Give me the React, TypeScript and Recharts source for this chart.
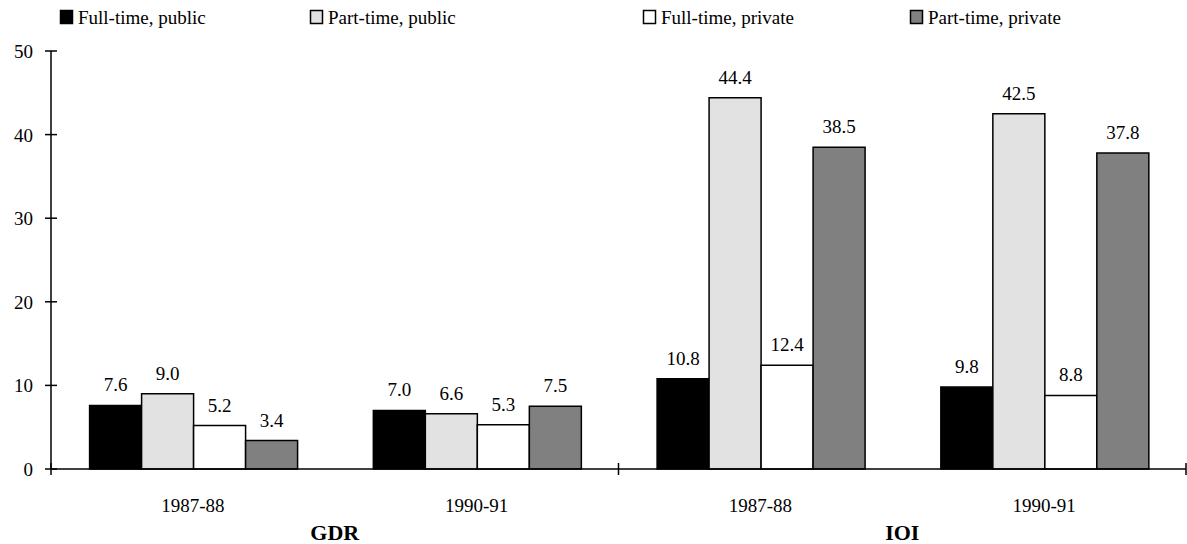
import { BarChart, Bar, XAxis, YAxis, LabelList } from "recharts";

const periods = ["1987-88", "1990-91", "1987-88", "1990-91"];
const regions = ["GDR", "GDR", "IOI", "IOI"];
const fullTimePublic = [7.6, 7.0, 10.8, 9.8];
const partTimePublic = [9.0, 6.6, 44.4, 42.5];
const fullTimePrivate = [5.2, 5.3, 12.4, 8.8];
const partTimePrivate = [3.4, 7.5, 38.5, 37.8];
const yTicks = [0, 10, 20, 30, 40, 50];

const SERIES = [
    { key: "ftPub", name: "Full-time, public", fill: "#000000", values: fullTimePublic },
    { key: "ptPub", name: "Part-time, public", fill: "#e2e2e2", values: partTimePublic },
    { key: "ftPriv", name: "Full-time, private", fill: "#ffffff", values: fullTimePrivate },
    { key: "ptPriv", name: "Part-time, private", fill: "#808080", values: partTimePrivate },
];

const FONT = '"Liberation Serif", "Times New Roman", serif';
const W = 1187;
const H = 544;
const MARGIN = { top: 51, right: 1, left: 0, bottom: 0 };
const Y_WIDTH = 51;
const BAND = (W - Y_WIDTH - MARGIN.right) / periods.length;
const LEGEND_X = [60, 310, 643, 910];

const data = periods.map((p, i) => {
    const row: any = { label: p, region: regions[i] };
    SERIES.forEach((s) => {
        row[s.key] = s.values[i];
    });
    return row;
});

const YTick = ({ x, y, payload }: any) => (
    <g>
        <line x1={x - 6} x2={x + 6} y1={y} y2={y} stroke="#000" strokeWidth={1.5} />
        <text x={x - 18} y={y + 7} textAnchor="end" fontSize={19} fontFamily={FONT} fill="#000">
            {payload.value}
        </text>
    </g>
);

const XTick = ({ x, y, payload, index }: any) => {
    const half = BAND / 2;
    return (
        <g>
            <text x={x} y={y + 43} textAnchor="middle" fontSize={19} fontFamily={FONT} fill="#000">
                {payload.value}
            </text>
            {index % 2 === 0 && (
                <>
                    <line x1={x - half} x2={x - half} y1={y - 6} y2={y + 6} stroke="#000" strokeWidth={1.5} />
                    <text
                        x={x + half}
                        y={y + 71}
                        textAnchor="middle"
                        fontSize={22}
                        fontWeight="bold"
                        fontFamily={FONT}
                        fill="#000"
                    >
                        {regions[index]}
                    </text>
                </>
            )}
            {index === periods.length - 1 && (
                <line x1={x + half} x2={x + half} y1={y - 6} y2={y + 6} stroke="#000" strokeWidth={1.5} />
            )}
        </g>
    );
};

function ChartLegend() {
    return (
        <svg width={W} height={32} style={{ position: "absolute", left: 0, top: 0 }}>
            {SERIES.map((s, i) => (
                <g key={s.key}>
                    <rect x={LEGEND_X[i] + 0.5} y={10.5} width={12} height={13} fill={s.fill} stroke="#000" strokeWidth={1.5} />
                    <text x={LEGEND_X[i] + 18} y={24} fontSize={19} fontFamily={FONT} fill="#000">
                        {s.name}
                    </text>
                </g>
            ))}
        </svg>
    );
}

export default function App() {
    return (
        <div style={{ position: "absolute", left: 0, top: 0, width: W, height: H, background: "#fff" }}>
            <BarChart
                width={W}
                height={H}
                data={data}
                margin={MARGIN}
                barCategoryGap="13.6%"
                barGap={0}
            >
                <XAxis
                    dataKey="label"
                    height={75}
                    interval={0}
                    tickSize={0}
                    tickMargin={0}
                    tickLine={false}
                    axisLine={{ stroke: "#000", strokeWidth: 1.5 }}
                    tick={<XTick />}
                />
                <YAxis
                    width={Y_WIDTH}
                    domain={[0, 50]}
                    ticks={yTicks}
                    interval={0}
                    tickSize={0}
                    tickMargin={0}
                    tickLine={false}
                    axisLine={{ stroke: "#000", strokeWidth: 1.5 }}
                    tick={<YTick />}
                />
                {SERIES.map((s) => (
                    <Bar
                        key={s.key}
                        dataKey={s.key}
                        name={s.name}
                        fill={s.fill}
                        stroke="#000"
                        strokeWidth={1.5}
                        isAnimationActive={false}
                    >
                        <LabelList
                            dataKey={s.key}
                            position="top"
                            offset={14}
                            fontSize={19}
                            fontFamily={FONT}
                            fill="#000"
                            formatter={(v: any) => Number(v).toFixed(1)}
                        />
                    </Bar>
                ))}
            </BarChart>
            <ChartLegend />
        </div>
    );
}
